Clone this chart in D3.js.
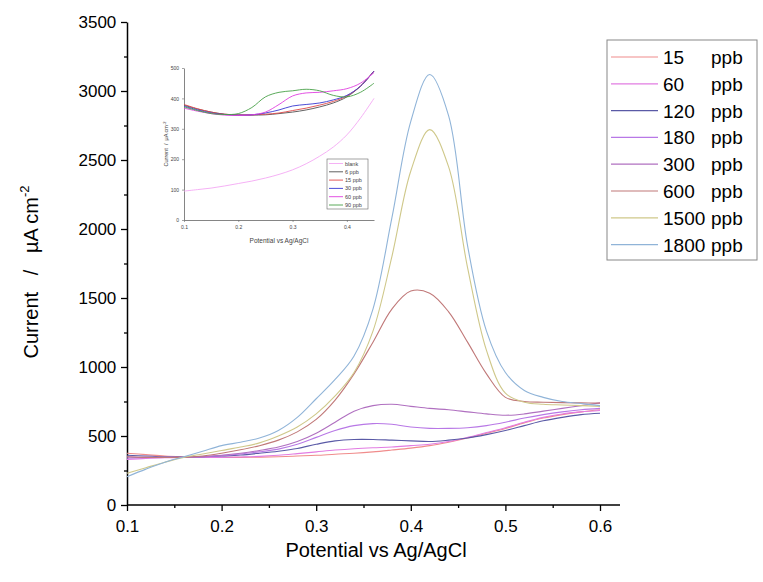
<!DOCTYPE html>
<html><head><meta charset="utf-8">
<script src="https://cdn.jsdelivr.net/npm/d3@7"></script>
<style>body{margin:0;background:#fff;} text{font-family:"Liberation Sans",Arial,sans-serif;white-space:pre;}</style>
</head><body><svg id="c" width="763" height="582"></svg>
<script>
// ---- main chart data ----
const potentials = [0.10,0.12,0.14,0.16,0.18,0.20,0.22,0.24,0.26,0.28,0.30,0.32,0.34,0.36,0.38,0.40,0.42,0.44,0.46,0.48,0.50,0.52,0.54,0.56,0.58,0.60];
const seriesNames = ["15","60","120","180","300","600","1500","1800"];
const s15   = [375,365,355,350,347,345,345,347,350,355,360,368,375,385,398,412,430,455,485,520,555,595,630,655,675,690];
const s60   = [330,338,342,345,345,345,348,352,360,372,385,398,408,415,420,430,440,460,490,525,560,600,635,660,675,685];
const s120  = [360,355,350,348,350,355,362,375,390,410,440,465,475,475,470,465,460,470,485,510,540,575,610,635,655,665];
const s180  = [340,345,345,345,350,358,370,385,405,440,490,540,575,590,585,565,555,555,560,575,600,630,655,675,690,700];
const s300  = [350,345,345,345,350,360,375,395,420,460,520,600,680,720,730,715,700,690,675,660,650,660,680,700,720,740];
const s600  = [350,345,345,345,355,375,400,430,470,530,620,760,950,1180,1420,1550,1535,1400,1180,950,780,750,745,742,740,738];
const s1500 = [230,270,310,345,370,395,420,450,500,565,660,790,960,1260,1800,2420,2720,2450,1720,1120,810,745,730,725,720,715];
const s1800 = [205,260,310,350,390,430,455,485,540,635,770,910,1080,1420,2080,2780,3120,2820,1880,1260,960,830,780,750,735,720];
const seriesValues = [s15,s60,s120,s180,s300,s600,s1500,s1800];
const seriesColors = ["#f08c8c","#e27ce2","#5a5aa6","#b878e6","#b070c0","#c07878","#cfc88a","#90b4d8"];
const xTicks = [0.1,0.2,0.3,0.4,0.5,0.6];
const yTicks = [0,500,1000,1500,2000,2500,3000,3500];

// ---- inset data ----
const insetPotentials = [0.100,0.125,0.150,0.175,0.200,0.225,0.250,0.275,0.300,0.325,0.350,0.375,0.400,0.425,0.450];
const insetNames = ["blank","6 ppb","15 ppb","30 ppb","60 ppb","90 ppb"];
const iBlank = [95,100,105,112,120,128,138,150,165,185,210,240,280,335,400];
const i6     = [378,365,355,348,345,345,346,350,355,362,372,385,405,440,490];
const i15    = [380,366,355,348,346,346,348,352,360,368,378,390,408,440,490];
const i30    = [375,362,352,347,345,346,352,362,375,380,385,395,410,440,490];
const i60    = [368,358,350,345,344,346,355,380,408,418,420,425,432,450,485];
const i90    = [372,360,350,347,350,370,405,420,425,430,425,410,405,420,450];
const insetValues = [iBlank,i6,i15,i30,i60,i90];
const insetColors = ["#f4a8f4","#505050","#e04848","#3838d0","#e040e0","#48a048"];
const insetXTicks = [0.1,0.2,0.3,0.4];
const insetYTicks = [0,100,200,300,400,500];

const svg = d3.select("#c");

// ---- main axes ----
const x = d3.scaleLinear().domain([0.1,0.6]).range([127,600]);
const y = d3.scaleLinear().domain([0,3500]).range([505,22]);
const line = d3.line().x((d,i)=>x(potentials[i])).y(d=>y(d)).curve(d3.curveCatmullRom.alpha(0.5));

const gx = svg.append("g").attr("transform","translate(0,505)")
  .call(d3.axisBottom(x).tickValues(xTicks).tickFormat(d3.format(".1f")).tickSize(6).tickSizeOuter(0));
svg.append("g").attr("transform","translate(0,505)")
  .call(d3.axisBottom(x).tickValues([0.15,0.25,0.35,0.45,0.55]).tickFormat("").tickSize(3).tickSizeOuter(0))
  .select(".domain").remove();
const gy = svg.append("g").attr("transform","translate(127,0)")
  .call(d3.axisLeft(y).tickValues(yTicks).tickFormat(d3.format("d")).tickSize(6).tickSizeOuter(0));
svg.append("g").attr("transform","translate(127,0)")
  .call(d3.axisLeft(y).tickValues([250,750,1250,1750,2250,2750,3250]).tickFormat("").tickSize(3).tickSizeOuter(0))
  .select(".domain").remove();
svg.selectAll(".domain").attr("stroke","#000").attr("stroke-width",1.5);
svg.selectAll(".tick line").attr("stroke","#000").attr("stroke-width",1.3);
gx.selectAll("text").attr("font-size",17).attr("fill","#000").attr("dy","1.05em");
gy.selectAll("text").attr("font-size",17).attr("fill","#000").attr("dx","-0.1em");
gx.select(".domain").attr("d","M127,0H620");

// curves
seriesValues.forEach((vals,k)=>{
  svg.append("path").datum(vals).attr("d",line).attr("fill","none")
    .attr("stroke",seriesColors[k]).attr("stroke-width",1.1);
});

// axis titles
svg.append("text").attr("x",376).attr("y",557).attr("text-anchor","middle").attr("font-size",20).text("Potential vs Ag/AgCl");
const yt = svg.append("text").attr("transform","translate(38,272) rotate(-90)").attr("text-anchor","middle").attr("font-size",20);
yt.append("tspan").text("Current   /   µA cm");
yt.append("tspan").attr("dy",-9).attr("font-size",13).text("-2");

// legend
const lg = svg.append("g");
lg.append("rect").attr("x",607).attr("y",40).attr("width",150).attr("height",220).attr("fill","#fff").attr("stroke","#888").attr("stroke-width",1);
seriesNames.forEach((n,k)=>{
  const yy = 57 + k*26.8;
  lg.append("line").attr("x1",611).attr("x2",658).attr("y1",yy).attr("y2",yy).attr("stroke",seriesColors[k]).attr("stroke-width",1.2);
  lg.append("text").attr("x",663).attr("y",yy+7).attr("font-size",19).text(n);
  lg.append("text").attr("x",711).attr("y",yy+7).attr("font-size",19).text("ppb");
});

// ---- inset ----
const ix = d3.scaleLinear().domain([0.1,0.45]).range([184,374]);
const iy = d3.scaleLinear().domain([0,500]).range([220,68]);
const iline = d3.line().x((d,i)=>ix(insetPotentials[i])).y(d=>iy(d)).curve(d3.curveCatmullRom.alpha(0.5));
const igx = svg.append("g").attr("transform","translate(0,220)")
  .call(d3.axisBottom(ix).tickValues(insetXTicks).tickFormat(d3.format(".1f")).tickSize(2).tickSizeOuter(0));
const igy = svg.append("g").attr("transform","translate(184,0)")
  .call(d3.axisLeft(iy).tickValues(insetYTicks).tickSize(2).tickSizeOuter(0));
[igx,igy].forEach(g=>{
  g.select(".domain").attr("stroke","#666").attr("stroke-width",0.8);
  g.selectAll(".tick line").attr("stroke","#666").attr("stroke-width",0.6);
  g.selectAll("text").attr("font-size",5).attr("fill","#444");
});
insetValues.forEach((vals,k)=>{
  svg.append("path").datum(vals).attr("d",iline).attr("fill","none")
    .attr("stroke",insetColors[k]).attr("stroke-width",0.9);
});
svg.append("text").attr("x",279).attr("y",243).attr("text-anchor","middle").attr("font-size",6.5).attr("fill","#444").text("Potential vs Ag/AgCl");
const iyt = svg.append("text").attr("transform","translate(168,144) rotate(-90)").attr("text-anchor","middle").attr("font-size",5.5).attr("fill","#444");
iyt.append("tspan").text("Current  /  µA cm");
iyt.append("tspan").attr("dy",-2).attr("font-size",4).text("-2");
const ilg = svg.append("g");
ilg.append("rect").attr("x",327).attr("y",159).attr("width",41).attr("height",50).attr("fill","#fff").attr("stroke","#666").attr("stroke-width",0.6);
insetNames.forEach((n,k)=>{
  const yy = 163.5 + k*8.3;
  ilg.append("line").attr("x1",329).attr("x2",343).attr("y1",yy).attr("y2",yy).attr("stroke",insetColors[k]).attr("stroke-width",0.9);
  ilg.append("text").attr("x",345).attr("y",yy+2).attr("font-size",5.5).attr("fill","#444").text(n);
});
</script></body></html>
